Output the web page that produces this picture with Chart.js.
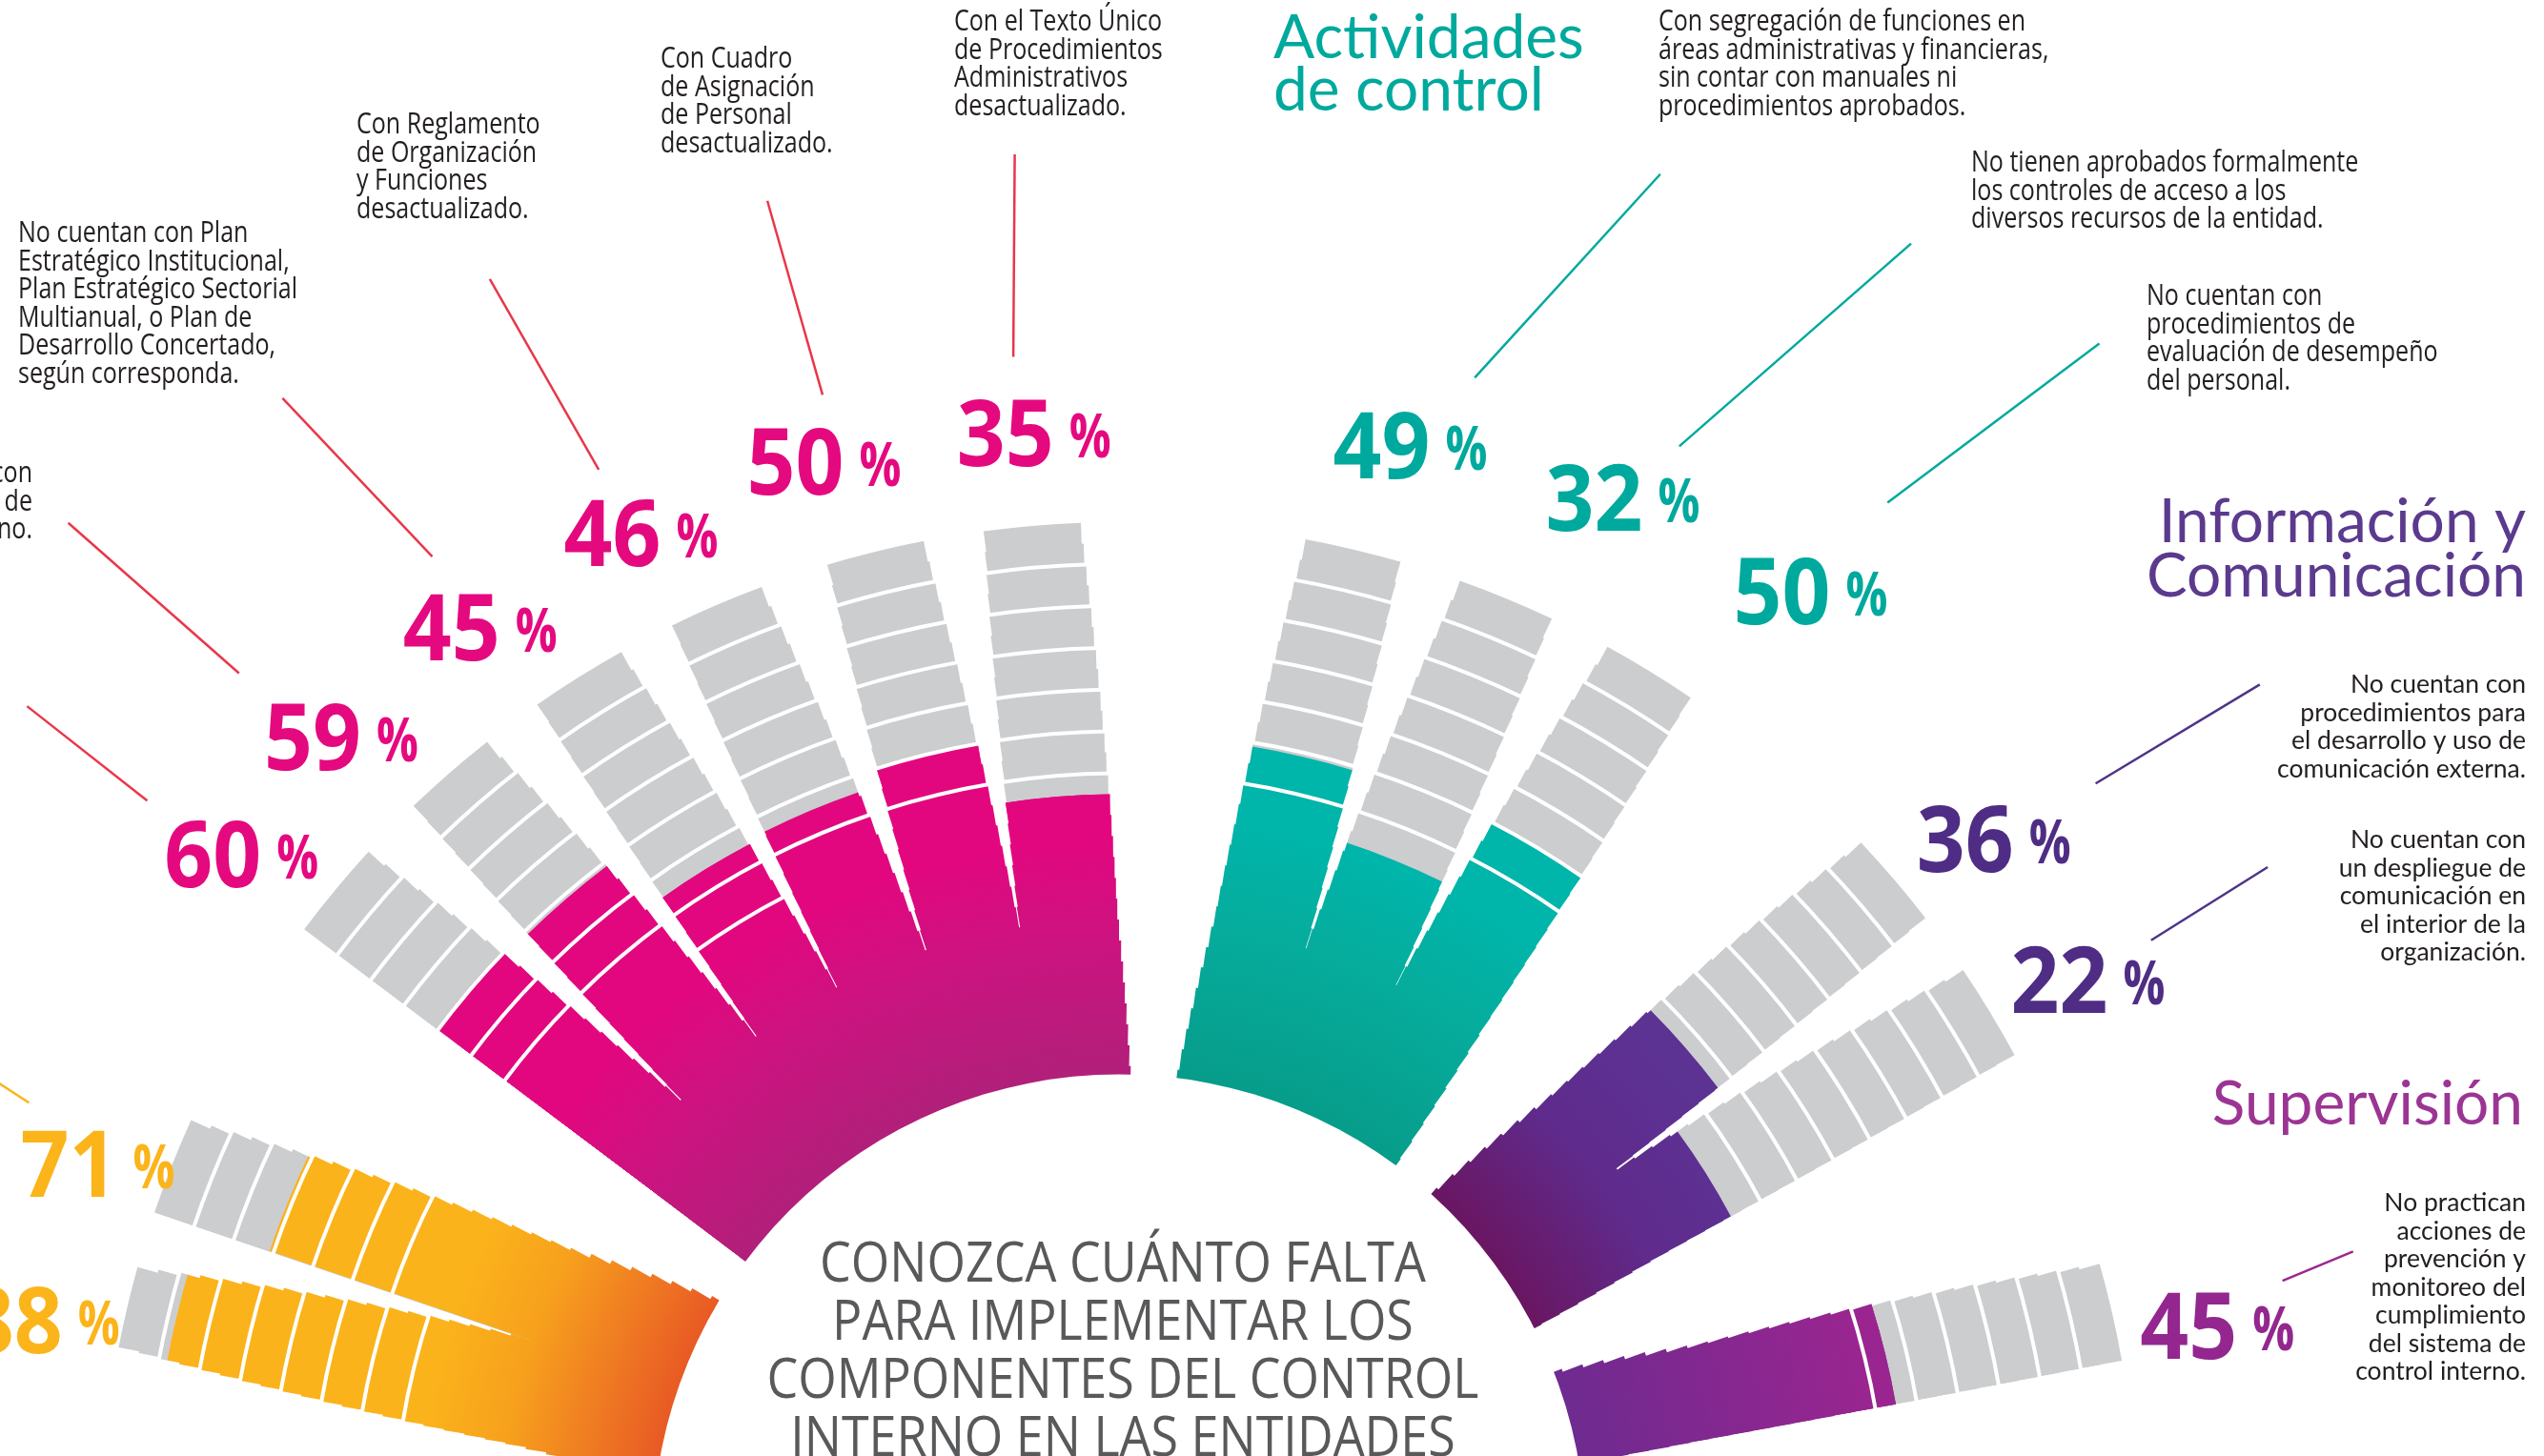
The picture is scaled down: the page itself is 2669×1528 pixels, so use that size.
<!DOCTYPE html>
<html lang="es">
<head>
<meta charset="utf-8">
<title>Conozca cuánto falta para implementar los componentes del control interno</title>
<script src="https://cdn.jsdelivr.net/npm/chart.js@4.4.1/dist/chart.umd.min.js"></script>
<style>
  html, body { margin: 0; padding: 0; background: #fff; overflow: hidden; }
  #wrap { position: absolute; left: 0; top: 0; width: 2669px; height: 3234px; }
</style>
</head>
<body>
<div id="wrap"><canvas id="fan" width="2669" height="3234"></canvas></div>
<script>
// ---- data (clockwise, left to right) ----
const groups = ["g1", "g2", "Actividades de control", "Información y Comunicación", "Supervisión"];
const categories = ["g1-a", "g1-b", "comite", "pe", "pei", "rof", "cap", "tupa",
  "segregacion", "accesos", "desempeno", "com-externa", "com-interna", "prevencion"];
const groupOf = [0, 0, 1, 1, 1, 1, 1, 1, 2, 2, 2, 3, 3, 4];
const percent = [88, 71, 60, 59, 45, 46, 50, 35, 49, 32, 50, 36, 22, 45];
// coloured blocks that still show white separators below the fill level
const colouredBlocks = [6, 4, 2, 2, 2, 1, 1, 0, 1, 0, 1, 0, 0, 1];
const descriptions = [
  [],
  [],
  [],
  ["No cuentan con", "un Comité de", "Control Interno."],
  ["No cuentan con Plan", "Estratégico Institucional,", "Plan Estratégico Sectorial", "Multianual, o Plan de", "Desarrollo Concertado,", "según corresponda."],
  ["Con Reglamento", "de Organización", "y Funciones", "desactualizado."],
  ["Con Cuadro", "de Asignación", "de Personal", "desactualizado."],
  ["Con el Texto Único", "de Procedimientos", "Administrativos", "desactualizado."],
  ["Con segregación de funciones en", "áreas administrativas y financieras,", "sin contar con manuales ni", "procedimientos aprobados."],
  ["No tienen aprobados formalmente", "los controles de acceso a los", "diversos recursos de la entidad."],
  ["No cuentan con", "procedimientos de", "evaluación de desempeño", "del personal."],
  ["No cuentan con", "procedimientos para", "el desarrollo y uso de", "comunicación externa."],
  ["No cuentan con", "un despliegue de", "comunicación en", "el interior de la", "organización."],
  ["No practican", "acciones de", "prevención y", "monitoreo del", "cumplimiento", "del sistema de", "control interno."]
];
const title = ["CONOZCA CUÁNTO FALTA", "PARA IMPLEMENTAR LOS", "COMPONENTES DEL CONTROL", "INTERNO EN LAS ENTIDADES"];

// ---- layout (angles in degrees clockwise from 12 o'clock) ----
const START = -84;
const RMIN = -143.5, RMAX = 100, INNER = -32;
// bar edges at the outer end
const barOuter = [[-79.0, -74.5], [-71.2, -65.7], [-53.1, -47.5], [-43.8, -38.4], [-34.8, -29.3], [-26.0, -20.6],
  [-16.6, -11.1], [-7.6, -2.2], [10.6, 16.0], [19.6, 25.1], [28.7, 34.1], [46.8, 52.3], [56.0, 61.5], [74.3, 79.8]];
// where neighbouring bars meet (keyed by the left bar)
const notchAngle = { 0: -71.0, 2: -44.8, 3: -35.7, 4: -27.0, 5: -18.1, 6: -9.2, 8: 17.5, 9: 26.5, 11: 53.2 };
const groupNotchV = [3, 5, 6, 3.5, 0];
// group outer edges at [outer end, notch level, hub]
const groupLeft = [[-79.0, -81.0, -82.4], [-53.1, -53.1, -53.2], [10.6, 8.7, 7.1], [46.8, 44.1, 42.0], [74.3, 71.2, 68.8]];
const groupRight = [[-65.7, -61.9, -59.0], [-2.2, -0.1, 1.4], [34.1, 35.4, 36.4], [61.5, 62.2, 62.9], [79.8, 80.2, 80.5]];
// label centre [angle, radius / outer radius]
const labelPos = [[-78.5, 1.078], [-69.8, 1.068], [-52.0, 1.093], [-44.1, 1.097], [-35.0, 1.093], [-25.4, 1.094],
  [-15.3, 1.097], [-4.4, 1.089], [14.9, 1.111], [25.8, 1.136], [36.1, 1.152], [51.3, 1.100], [60.0, 1.098], [79.0, 1.098]];
// leader line [a1, r1, a2, r2]
const leaderPos = [null, [-68.1, 1.153, -66.6, 1.33], [-52.7, 1.199, -52.6, 1.349], [-45.4, 1.213, -45.9, 1.436],
  [-34.9, 1.178, -36.2, 1.390], [-25.9, 1.169, -26.5, 1.384], [-14.5, 1.162, -14.7, 1.360], [-5.1, 1.167, -4.3, 1.365],
  [17.0, 1.194, 21.6, 1.443], [27.1, 1.207, 31.4, 1.492], [36.5, 1.268, 39.3, 1.519],
  [52.2, 1.213, 53.1, 1.400], [59.8, 1.172, 59.6, 1.307], [77.4, 1.170, 76.8, 1.244]];
// description block: x, first baseline, alignment
const descPos = [null, null, null, [34, 506, "right"], [19, 254, "left"], [374, 140, "left"], [693, 71, "left"],
  [1001, 32, "left"], [1740, 32, "left"], [2068, 180, "left"], [2252, 320, "left"],
  [2650, 727, "right"], [2650, 890, "right"], [2650, 1271, "right"]];

const SANS = '"Open Sans", "Noto Sans", sans-serif';
const GREY = "#CCCDCF";
const labelColour = ["#FBB41A", "#E5097F", "#00A99D", "#4F2D84", "#93278F"];
const leaderColour = ["#FBB41A", "#E8374A", "#00A99D", "#4E3388", "#9B2790"];
const groupStops = [
  [[-32, "#E85A24"], [-15, "#EF7B22"], [5, "#F7A11D"], [25, "#FBB31B"], [100, "#FBB31B"]],
  [[-35, "#AE2179"], [0, "#CC1380"], [25, "#E3077F"], [100, "#E3077F"]],
  [[-35, "#079B89"], [5, "#06AC9C"], [30, "#00B5AA"], [100, "#00B5AA"]],
  [[-35, "#6B145E"], [0, "#5F2B8C"], [30, "#5C3293"], [100, "#5C3293"]],
  [[-35, "#6C2B90"], [40, "#9A2590"], [100, "#9A2590"]]
];

// ---- geometry helpers: bars widen towards the hub and merge below the notch ----
const groupBars = groups.map((_, g) => groupOf.map((gg, i) => gg === g ? i : -1).filter(i => i >= 0));
function edge(e, v, vN) {
  if (v >= vN) return e[0] + (e[1] - e[0]) * (100 - v) / (100 - vN);
  return e[1] + (e[2] - e[1]) * (vN - v) / (vN - INNER);
}
function barEdges(i, v) {
  const g = groupOf[i], bars = groupBars[g], vN = groupNotchV[g];
  const t = (100 - v) / (100 - vN);
  const first = bars[0] === i, last = bars[bars.length - 1] === i;
  const l = first ? edge(groupLeft[g], v, vN) : barOuter[i][0] + (notchAngle[i - 1] - barOuter[i][0]) * t;
  const r = last ? edge(groupRight[g], v, vN) : barOuter[i][1] + (notchAngle[i] - barOuter[i][1]) * t;
  return [l, r];
}
function buildSlots(pieces) {
  const slots = [];
  let cur = START;
  pieces.forEach(p => {
    slots.push({ gap: true, angle: p.from - cur, value: RMIN });
    slots.push(Object.assign({ gap: false, angle: p.to - p.from }, p));
    cur = p.to;
  });
  return slots;
}

// layers every 5 units from the outer end to the hub
const layerTops = [];
for (let v = 100; v >= -30; v -= 5) layerTops.push(v);
function layerSlots(vTop) {
  const vm = vTop - 2.5, pieces = [];
  groupBars.forEach((bars, g) => {
    if (vm <= groupNotchV[g]) {
      pieces.push({ from: edge(groupLeft[g], vm, groupNotchV[g]), to: edge(groupRight[g], vm, groupNotchV[g]),
        value: vTop, group: g, grey: false });
    } else {
      bars.forEach(i => {
        const [l, r] = barEdges(i, vm);
        pieces.push({ from: l, to: r, value: vTop, group: g, grey: vTop > percent[i] });
      });
    }
  });
  return buildSlots(pieces);
}
function fillSlots() {
  return buildSlots(percent.map((p, i) => {
    const [l, r] = barEdges(i, Math.ceil(p / 5) * 5 - 2.5);
    return { from: l, to: r, value: p, group: groupOf[i], grey: false };
  }));
}

const gradCache = {};
function shade(chart, g) {
  const s = chart.scales.r;
  if (!s || !s.drawingArea) return groupStops[g][groupStops[g].length - 1][1];
  const key = g + ":" + s.xCenter + ":" + s.yCenter + ":" + s.drawingArea;
  if (gradCache[key]) return gradCache[key];
  const grad = chart.ctx.createRadialGradient(s.xCenter, s.yCenter, 0, s.xCenter, s.yCenter, s.drawingArea);
  groupStops[g].forEach(([v, c]) => {
    grad.addColorStop(Math.min(1, Math.max(0, s.getDistanceFromCenterForValue(v) / s.drawingArea)), c);
  });
  gradCache[key] = grad;
  return grad;
}
function makeDataset(label, slots) {
  return {
    label: label,
    data: slots.map(sl => sl.value),
    angle: c => slots[c.dataIndex].angle,
    backgroundColor: c => {
      const sl = slots[c.dataIndex];
      if (!sl || sl.gap) return "rgba(0,0,0,0)";
      return sl.grey ? GREY : shade(c.chart, sl.group);
    },
    borderWidth: 0
  };
}

function polar(s, angDeg, f) {
  const a = angDeg * Math.PI / 180, rr = f * s.drawingArea;
  return [s.xCenter + rr * Math.sin(a), s.yCenter - rr * Math.cos(a)];
}
function squeezeText(ctx, text, x, y, sx, align) {
  ctx.save();
  ctx.translate(x, y);
  ctx.scale(sx, 1);
  ctx.textAlign = align;
  ctx.fillText(text, 0, 0);
  ctx.restore();
}
const rad = d => (d - 90) * Math.PI / 180;

const annotate = {
  id: "annotate",
  afterDatasetsDraw(chart) {
    const ctx = chart.ctx, s = chart.scales.r;
    ctx.save();
    ctx.fillStyle = "#fff";
    ctx.beginPath();
    ctx.arc(s.xCenter, s.yCenter, s.getDistanceFromCenterForValue(INNER), 0, Math.PI * 2);
    ctx.fill();
    // block separators
    ctx.strokeStyle = "#fff";
    ctx.lineWidth = 4;
    percent.forEach((p, i) => {
      const first = Math.max(10, Math.ceil(p / 10) * 10 - 10 * colouredBlocks[i]);
      for (let t = first; t < RMAX; t += 10) {
        const [l, r] = barEdges(i, t - 2.5);
        ctx.beginPath();
        ctx.arc(s.xCenter, s.yCenter, s.getDistanceFromCenterForValue(t), rad(l - 0.3), rad(r + 0.3));
        ctx.stroke();
      }
    });
    ctx.restore();
  },
  afterDraw(chart) {
    const ctx = chart.ctx, s = chart.scales.r;
    ctx.save();
    ctx.textBaseline = "alphabetic";
    // title in the hub
    ctx.fillStyle = "#58595B";
    ctx.font = "400 59px " + SANS;
    const tsx = 747 / ctx.measureText(title[2]).width;
    title.forEach((line, k) => squeezeText(ctx, line, s.xCenter + 4, s.yCenter - 272 + k * 61, tsx, "center"));

    // percentages and leader lines
    ctx.font = "700 96px " + SANS;
    const psx = 102 / ctx.measureText("50").width;
    ctx.font = "400 31px " + SANS;
    const dsx = 385 / ctx.measureText(descriptions[8][0]).width;
    percent.forEach((p, i) => {
      const g = groupOf[i];
      const [x, y] = polar(s, labelPos[i][0], labelPos[i][1]);
      ctx.font = "700 96px " + SANS;
      const wd = ctx.measureText(String(p)).width * psx;
      ctx.font = "700 64px " + SANS;
      const wp = ctx.measureText("%").width * psx * 0.82;
      const x0 = x - (wd + 16 + wp) / 2, base = y + 33;
      ctx.fillStyle = labelColour[g];
      ctx.font = "700 96px " + SANS;
      squeezeText(ctx, String(p), x0, base, psx, "left");
      ctx.font = "700 64px " + SANS;
      squeezeText(ctx, "%", x0 + wd + 16, base - 9, psx * 0.82, "left");

      const L = leaderPos[i];
      if (L) {
        const [x1, y1] = polar(s, L[0], L[1]);
        const [x2, y2] = polar(s, L[2], L[3]);
        ctx.strokeStyle = leaderColour[g];
        ctx.lineWidth = 2.5;
        ctx.beginPath();
        ctx.moveTo(x1, y1);
        ctx.lineTo(x2, y2);
        ctx.stroke();
      }

      const d = descPos[i];
      if (d) {
        ctx.fillStyle = "#231F20";
        if (g <= 2) {
          ctx.font = "400 31px " + SANS;
          descriptions[i].forEach((line, k) => squeezeText(ctx, line, d[0], d[1] + k * 29.5, dsx, d[2]));
        } else {
          ctx.font = "400 26.5px Lato, " + SANS;
          ctx.textAlign = d[2];
          descriptions[i].forEach((line, k) => ctx.fillText(line, d[0], d[1] + k * 29.5));
        }
      }
    });

    // group headings
    ctx.font = "400 64px Lato, " + SANS;
    ctx.textAlign = "left";
    ctx.fillStyle = "#00A99D";
    ctx.fillText("Actividades", 1336, 61);
    ctx.fillText("de control", 1336, 116);
    ctx.textAlign = "right";
    ctx.fillStyle = "#5B3A8E";
    ctx.fillText("Información y", 2650, 569);
    ctx.fillText("Comunicación", 2650, 626);
    ctx.fillStyle = "#9B3593";
    ctx.fillText("Supervisión", 2647, 1180);
    ctx.restore();
  }
};

// dataset 0 is drawn last: fill on top, then layers from the hub outwards
const datasets = [makeDataset("Falta implementar (%)", fillSlots())];
layerTops.slice().reverse().forEach(v => datasets.push(makeDataset("capa " + v, layerSlots(v))));
const maxLen = Math.max(...datasets.map(d => d.data.length));

new Chart(document.getElementById("fan"), {
  type: "polarArea",
  data: {
    labels: Array.from({ length: maxLen }, (_, k) => k % 2 ? (categories[(k - 1) / 2] || "") : ""),
    datasets: datasets
  },
  options: {
    responsive: false,
    animation: false,
    events: [],
    layout: { padding: { left: 105, right: 426, top: 548, bottom: 548 } },
    plugins: { legend: { display: false }, tooltip: { enabled: false } },
    scales: {
      r: {
        min: RMIN,
        max: RMAX,
        startAngle: START,
        ticks: { display: false },
        grid: { display: false },
        angleLines: { display: false },
        pointLabels: { display: false }
      }
    }
  },
  plugins: [annotate]
});
</script>
</body>
</html>
